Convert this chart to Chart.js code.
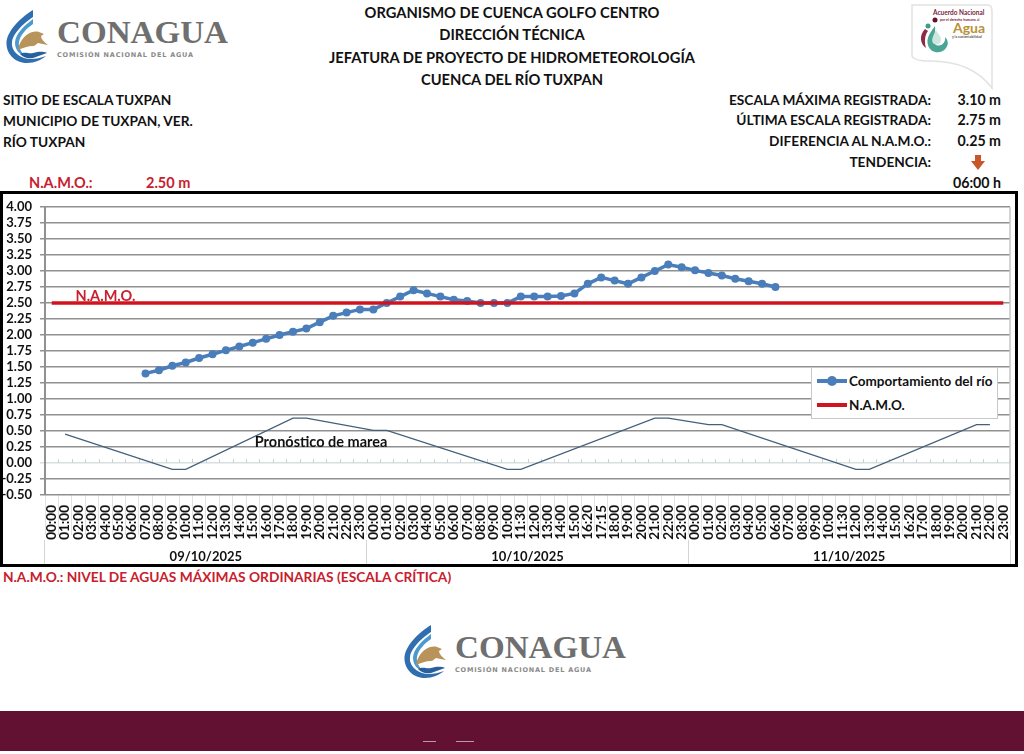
<!DOCTYPE html>
<html lang="es">
<head>
<meta charset="utf-8">
<title>Sitio de escala Tuxpan</title>
<script src="https://cdn.jsdelivr.net/npm/chart.js@4/dist/chart.umd.js"></script>
<style>
  html, body { margin: 0; padding: 0; background: #fff; }
  body { width: 1024px; height: 754px; position: relative; overflow: hidden; font-family: Lato, sans-serif; font-weight: 700; color: #111; }
  .t { position: absolute; white-space: nowrap; font-size: 13.7px; line-height: 18px; }
  .c { left: 212px; width: 600px; text-align: center; font-size: 14.7px; }
  .r { right: 93px; text-align: right; }
  .v { right: 23px; text-align: right; font-size: 14.2px; }
  .red { color: #c8202d; }
  #frame { position: absolute; left: 0; top: 191px; width: 1018px; height: 376px; box-sizing: border-box; }
  #frame canvas { position: absolute; left: 0; top: 0; }
  #border { position: absolute; left: 0; top: 191px; width: 1018px; height: 376px; box-sizing: border-box; border: 3px solid #000; pointer-events: none; }
  #legend { position: absolute; left: 811px; top: 367px; width: 187px; height: 52px; box-sizing: border-box; background: #fff; border: 1px solid #c8c8c8; font-size: 13.5px; }
  #legend div { position: absolute; left: 4px; height: 18px; line-height: 18px; padding-left: 33px; white-space: nowrap; }
  #legend i { position: absolute; left: 1px; top: 7px; width: 30px; height: 4px; }
  #legend b { position: absolute; left: 11px; top: 4px; width: 10px; height: 10px; border-radius: 50%; }
  #bar { position: absolute; left: 0; top: 711px; width: 1024px; height: 40px; background: #621132; }
  #bar i { position: absolute; top: 30px; height: 1px; background: #b99aa6; }
  svg { position: absolute; left: 0; top: 0; }
</style>
</head>
<body>

<svg width="1024" height="754" viewBox="0 0 1024 754">
  <defs>
    <g id="logo">
      <path d="M33 10C20 18 6 32 6.500 44C7 56 17 63 27 63C35 63 41 60 46 56C38 59 30 60 24 58C16 55 11 49 12 42C13 33 25 22 33 17Z" fill="#2f6fb0"/>
      <path d="M33 19C25 25 15 34 15 43C15 50 20 55 26 57C21 52 18 47 19 42C20 35 27 28 33 24Z" fill="#4a9ad0"/>
      <path d="M18 50C19 44 22 38 28 34C31 32 35 31 39 32L44 34L41 36C41 39 44 42 48 45C44 44 41 44 38 43C36 44 35 46 33 46C28 46 23 48 18 50Z" fill="#b8935a"/>
      <path d="M20 54C25 51 28 54 33 53C38 52 42 51 47 53C42 55 38 56 33 58C28 59 24 58 20 54Z" fill="#2a5f9e"/>
      <text x="57" y="43" font-family="Liberation Serif" font-weight="700" font-size="32" fill="#6f6f6f" textLength="171" lengthAdjust="spacingAndGlyphs">CONAGUA</text>
      <text x="57" y="57" font-family="DejaVu Sans" font-weight="700" font-size="6.500" fill="#8a8a8a" textLength="136">COMISIÓN NACIONAL DEL AGUA</text>
    </g>
  </defs>
  <use href="#logo"/>
  <use href="#logo" transform="translate(398 615)"/>

  <path d="M912 5L988 5Q992 5 992 12L992 88C980 72 960 61 930 61Q914 61 912 56Z" fill="#fff" stroke="#e2e2e2" stroke-width="1.500"/>
  <text x="933" y="15" font-family="Lato" font-weight="700" font-size="6.500" fill="#7a1f3d">Acuerdo Nacional</text>
  <text x="940" y="21" font-family="Lato" font-size="3.500" fill="#7a1f3d">por el derecho humano al</text>
  <text x="953" y="33" font-family="Lato" font-weight="700" font-size="14" fill="#b8923a">Agua</text>
  <text x="952" y="38" font-family="Lato" font-size="3.500" fill="#555">y la sustentabilidad</text>
  <circle cx="935" cy="20" r="2.500" fill="#621132"/>
  <circle cx="928" cy="26" r="2.500" fill="#3a9d8f"/>
  <path d="M925 29C919 35 920 44 926 48C924 41 925 35 928 31Z" fill="#8c2b45"/>
  <path d="M935 26C930 33 926 38 928 45C930 53 941 55 946 48C949 44 948 40 945 37C946 43 941 47 936 45C932 42 936 34 935 26Z" fill="#4aa594"/>
  <path d="M936 30C933 36 931 40 933 43C936 46 941 44 941 40C941 36 938 34 936 30Z" fill="#cfe6e0"/>
  <path d="M975 155L981 155L981 161L985 161L978 170L971 161L975 161Z" fill="#c9552b"/>
</svg>

<div class="t c" style="top:3px">ORGANISMO DE CUENCA GOLFO CENTRO</div>
<div class="t c" style="top:25px">DIRECCIÓN TÉCNICA</div>
<div class="t c" style="top:48px">JEFATURA DE PROYECTO DE HIDROMETEOROLOGÍA</div>
<div class="t c" style="top:70px">CUENCA DEL RÍO TUXPAN</div>

<div class="t" style="left:3px;top:91px">SITIO DE ESCALA TUXPAN</div>
<div class="t" style="left:3px;top:112px">MUNICIPIO DE TUXPAN, VER.</div>
<div class="t" style="left:3px;top:133px">RÍO TUXPAN</div>

<div class="t r" style="top:91px">ESCALA MÁXIMA REGISTRADA:</div>
<div class="t r" style="top:111px">ÚLTIMA ESCALA REGISTRADA:</div>
<div class="t r" style="top:132px">DIFERENCIA AL N.A.M.O.:</div>
<div class="t r" style="top:153px">TENDENCIA:</div>
<div class="t v" style="top:91px">3.10 m</div>
<div class="t v" style="top:111px">2.75 m</div>
<div class="t v" style="top:132px">0.25 m</div>
<div class="t v" style="top:174px">06:00 h</div>

<div class="t red" style="left:29px;top:174px;font-size:14.500px">N.A.M.O.:</div>
<div class="t red" style="left:146px;top:174px;font-size:14.500px">2.50 m</div>

<div id="frame"><canvas id="chart" width="1018" height="376"></canvas></div>
<div id="border"></div>
<div id="legend"></div>

<div class="t red" style="left:3px;top:568px;font-size:13.750px">N.A.M.O.: NIVEL DE AGUAS MÁXIMAS ORDINARIAS (ESCALA CRÍTICA)</div>

<div id="bar"><i style="left:423px;width:13px"></i><i style="left:456px;width:18px"></i></div>

<script>
const hours = [
  '00:00','01:00','02:00','03:00','04:00','05:00','06:00','07:00','08:00','09:00','10:00','11:00',
  '12:00','13:00','14:00','15:00','16:00','17:00','18:00','19:00','20:00','21:00','22:00','23:00',
  '00:00','01:00','02:00','03:00','04:00','05:00','06:00','07:00','08:00','09:00','10:00','11:30',
  '12:00','13:00','14:00','15:00','16:20','17:15','18:00','19:00','20:00','21:00','22:00','23:00',
  '00:00','01:00','02:00','03:00','04:00','05:00','06:00','07:00','08:00','09:00','10:00','11:30',
  '12:00','13:00','14:00','15:00','16:20','17:00','18:00','19:00','20:00','21:00','22:00','23:00'
];
const days = ['09/10/2025', '10/10/2025', '11/10/2025'];

const rio = [
  null,null,null,null,null,null,null,1.40,1.45,1.52,1.57,1.64,
  1.70,1.76,1.82,1.88,1.94,2.00,2.05,2.10,2.20,2.30,2.35,2.40,
  2.40,2.50,2.60,2.70,2.65,2.60,2.55,2.53,2.50,2.50,2.50,2.60,
  2.60,2.60,2.61,2.65,2.80,2.90,2.85,2.80,2.90,3.00,3.10,3.06,
  3.01,2.97,2.93,2.88,2.84,2.80,2.75,null,null,null,null,null,
  null,null,null,null,null,null,null,null,null,null,null,null
];
const namo = [
  2.5,2.5,2.5,2.5,2.5,2.5,2.5,2.5,2.5,2.5,2.5,2.5,
  2.5,2.5,2.5,2.5,2.5,2.5,2.5,2.5,2.5,2.5,2.5,2.5,
  2.5,2.5,2.5,2.5,2.5,2.5,2.5,2.5,2.5,2.5,2.5,2.5,
  2.5,2.5,2.5,2.5,2.5,2.5,2.5,2.5,2.5,2.5,2.5,2.5,
  2.5,2.5,2.5,2.5,2.5,2.5,2.5,2.5,2.5,2.5,2.5,2.5,
  2.5,2.5,2.5,2.5,2.5,2.5,2.5,2.5,2.5,2.5,2.5,2.5
];
// only the turning points of the tide line can be read, the gaps are spanned
const marea = [
  null,0.45,null,null,null,null,null,null,null,-0.10,-0.10,null,
  null,null,null,null,null,null,0.70,0.70,null,null,null,null,
  0.51,0.51,null,null,null,null,null,null,null,null,-0.10,-0.10,
  null,null,null,null,null,null,null,null,null,0.70,0.70,null,
  null,0.60,0.60,null,null,null,null,null,null,null,null,null,
  -0.10,-0.10,null,null,null,null,null,null,null,0.60,0.60,null
];

const BLUE = '#4a7ebb';
const RED = '#d0141f';
const FONT = 'Lato';

// the notes on the plot and the marks on the zero line
const extras = {
  id: 'extras',
  beforeDatasetsDraw(chart) {
    const { ctx, chartArea: a, scales: { x, y } } = chart;
    const y0 = y.getPixelForValue(0);
    const step = x.getPixelForValue(1) - x.getPixelForValue(0);
    ctx.save();
    ctx.strokeStyle = '#c9d2d2';
    ctx.lineWidth = 1;
    ctx.beginPath();
    hours.forEach((h, i) => {
      const px = Math.round(x.getPixelForValue(i) + step / 2) + 0.5;
      ctx.moveTo(px, y0);
      ctx.lineTo(px, y0 - 4);
    });
    ctx.stroke();
    ctx.strokeStyle = '#c4c4c4';
    ctx.lineWidth = 1.5;
    ctx.beginPath();
    ctx.moveTo(a.right, a.top);
    ctx.lineTo(a.right, a.bottom);
    ctx.stroke();
    ctx.restore();
  },
  afterDatasetsDraw(chart) {
    const { ctx, scales: { x, y } } = chart;
    ctx.save();
    ctx.font = '700 14.5px ' + FONT;
    ctx.textBaseline = 'middle';
    ctx.textAlign = 'left';
    ctx.fillStyle = '#c8202d';
    ctx.fillText('N.A.M.O.', x.getPixelForValue(2) - 3, y.getPixelForValue(2.5) - 7);
    ctx.fillStyle = '#111';
    ctx.fillText('Pronóstico de marea', x.getPixelForValue(15) + 2, y.getPixelForValue(0.32));
    ctx.restore();
  }
};

const chart = new Chart(document.getElementById('chart'), {
  type: 'line',
  plugins: [extras],
  data: {
    labels: hours,
    datasets: [
      { label: 'N.A.M.O.', data: namo, borderColor: RED, backgroundColor: RED, borderWidth: 3.5, pointRadius: 0, order: 1 },
      { label: 'Comportamiento del río', data: rio, borderColor: BLUE, backgroundColor: BLUE, borderWidth: 3.5, pointRadius: 4, pointBorderWidth: 0, pointBackgroundColor: BLUE, order: 2 },
      { label: 'Pronóstico de marea', data: marea, borderColor: '#44607a', borderWidth: 1.3, pointRadius: 0, spanGaps: true, order: 3 }
    ]
  },
  options: {
    responsive: false,
    animation: false,
    layout: { padding: { top: 16, right: 8, left: 0, bottom: 0 } },
    plugins: { legend: { display: false }, tooltip: { enabled: false } },
    scales: {
      x: {
        offset: true,
        grid: { offset: true, drawOnChartArea: false, tickLength: 40, color: '#e2e2e2', lineWidth: 1 },
        border: { display: false },
        ticks: { autoSkip: false, minRotation: 90, maxRotation: 90, padding: -30, color: '#111', font: { family: FONT, weight: '700', size: 13.5 } },
        afterFit(s) { s.height = 45; }
      },
      xDays: {
        type: 'category',
        position: 'bottom',
        labels: days,
        offset: true,
        grid: { offset: true, drawOnChartArea: false, tickLength: 26, color: '#d4d4d4', lineWidth: 1 },
        border: { display: false },
        ticks: { autoSkip: false, maxRotation: 0, padding: -17, color: '#111', font: { family: FONT, weight: '700', size: 13 } },
        afterFit(s) { s.height = 27; }
      },
      y: {
        min: -0.5,
        max: 4,
        grid: {
          tickLength: 5,
          lineWidth: 1.5,
          color: c => c.tick.value === 0 ? '#d8dfdf' : '#909090'
        },
        border: { color: '#909090', width: 2 },
        ticks: { autoSkip: false, stepSize: 0.25, padding: 8, color: '#111', font: { family: FONT, weight: '700', size: 13 }, callback: v => v.toFixed(2) },
        afterFit(s) { s.width = 45; }
      }
    }
  }
});

// legend box sits over the plot like in the original, marea is left out
const legendBox = document.getElementById('legend');
[chart.data.datasets[1], chart.data.datasets[0]].forEach((d, i) => {
  const row = document.createElement('div');
  row.style.top = (i === 0 ? 4 : 28) + 'px';
  row.textContent = d.label;
  const line = document.createElement('i');
  line.style.background = d.borderColor;
  row.appendChild(line);
  if (d.pointRadius) {
    const dot = document.createElement('b');
    dot.style.background = d.borderColor;
    row.appendChild(dot);
  }
  legendBox.appendChild(row);
});
</script>
</body>
</html>
